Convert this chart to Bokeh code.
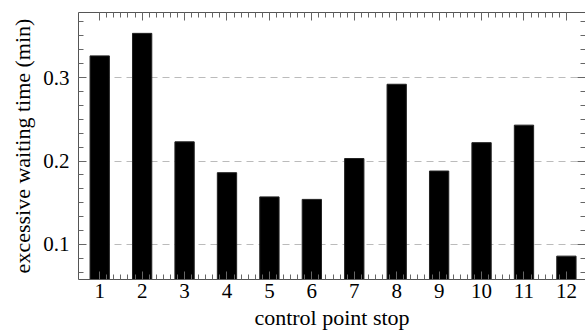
from bokeh.plotting import figure
from bokeh.models import LinearAxis, FixedTicker, SingleIntervalTicker, ColumnDataSource, Range1d, CustomJSTickFormatter, Title
from bokeh.embed import file_html
from bokeh.resources import INLINE

stops = [1, 2, 3, 4, 5, 6, 7, 8, 9, 10, 11, 12]
tick_labels = ["1", "2", "3", "4", "5", "6", "7", "8", "9", "10", "11", "12"]
waiting = [0.326, 0.353, 0.223, 0.186, 0.157, 0.154, 0.203, 0.292, 0.188, 0.222, 0.243, 0.086]
x_title = "control point stop"
y_title = "excessive waiting time (min)"

FONT = "'Liberation Serif', 'Times New Roman', serif"
FS = "21px"
TS = "22px"
AX = "#555555"
TK = "#666666"

src = ColumnDataSource(dict(x=stops, top=waiting))

xr = Range1d(0.5, 12.45)
yr = Range1d(0.058, 0.378)
p = figure(width=585, height=333, output_backend="svg", toolbar_location=None,
           x_range=xr, y_range=yr,
           min_border_left=78, min_border_right=0, min_border_top=12, min_border_bottom=54,
           x_axis_location=None, y_axis_location=None)
p.outline_line_color = None
p.background_fill_color = "white"
p.border_fill_color = "white"

p.vbar(x="x", top="top", bottom=0, width=0.455, source=src,
       fill_color="black", line_color="#222222", line_width=1)

x_minor = [1 + k / 6 for k in range(67)]
xt = FixedTicker(ticks=stops, minor_ticks=x_minor)
yt = SingleIntervalTicker(interval=0.1, num_minor_ticks=6)


def style(ax, labels=True):
    ax.axis_line_color = AX
    ax.axis_line_width = 1
    ax.major_tick_line_color = TK
    ax.minor_tick_line_color = TK
    ax.major_tick_in = 8
    ax.major_tick_out = 0
    ax.minor_tick_in = 5
    ax.minor_tick_out = 0
    ax.major_label_text_font = FONT
    ax.major_label_text_color = "black"
    ax.major_label_text_font_size = FS
    if not labels:
        ax.formatter = CustomJSTickFormatter(code="return '';")
        ax.major_label_standoff = 0


bottom = LinearAxis(ticker=xt)
style(bottom)
bottom.major_label_overrides = {s: t for s, t in zip(stops, tick_labels)}
bottom.major_label_standoff = 4
p.add_layout(bottom, "below")

top = LinearAxis(ticker=xt)
style(top, labels=False)
p.add_layout(top, "above")

left = LinearAxis(ticker=yt)
style(left)
left.major_label_standoff = 9
p.add_layout(left, "left")

right = LinearAxis(ticker=yt)
style(right, labels=False)
p.add_layout(right, "right")

p.add_layout(Title(text=x_title, align="center", text_font=FONT, text_font_size=TS,
                   text_font_style="normal", text_color="black", standoff=4, offset=0), "below")
p.add_layout(Title(text=y_title, align="center", text_font=FONT, text_font_size=TS,
                   text_font_style="normal", text_color="black", standoff=12, offset=0), "left")

p.xgrid.grid_line_color = None
p.ygrid.ticker = yt
p.ygrid.grid_line_color = "#bbbbbb"
p.ygrid.grid_line_dash = "7 5"
p.ygrid.grid_line_width = 1

open("out.html", "w").write(file_html(p, INLINE))
